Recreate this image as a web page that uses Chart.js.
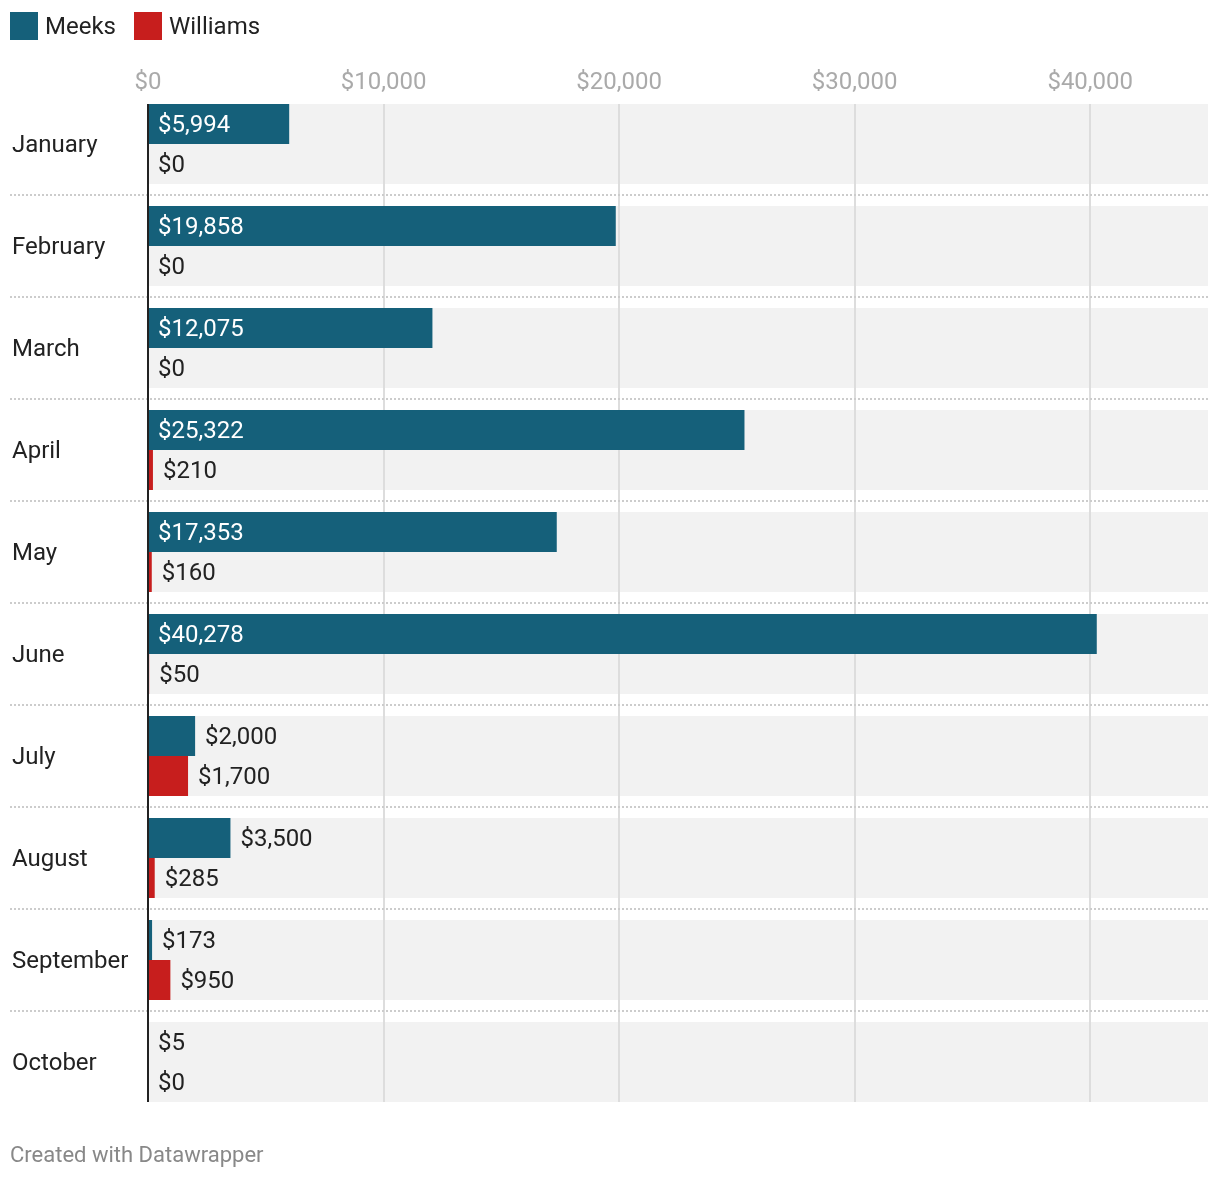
<!DOCTYPE html>
<html>
<head>
<meta charset="utf-8">
<script src="https://cdn.jsdelivr.net/npm/chart.js@4.4.1/dist/chart.umd.min.js"></script>
<style>
  html, body { margin: 0; padding: 0; background: #fff; }
  #wrap { position: relative; width: 1220px; height: 1180px; font-family: Roboto, "Noto Sans", sans-serif; }
  #wrap canvas { position: absolute; left: 0; top: 0; }
  .legend { position: absolute; left: 10px; top: 12px; display: flex; align-items: center; font-size: 24px; color: #222; z-index: 2; }
  .legend .item { display: flex; align-items: center; margin-right: 18px; }
  .legend .sw { width: 28px; height: 28px; margin-right: 7px; }
  .footer { position: absolute; left: 10px; top: 1142px; font-size: 22px; color: #888; z-index: 2; }
</style>
</head>
<body>
<div id="wrap">
  <div class="legend" id="legend"></div>
  <canvas id="c" width="1220" height="1180"></canvas>
  <div class="footer">Created with Datawrapper</div>
</div>
<script>
const categories = ["January","February","March","April","May","June","July","August","September","October"];
const seriesNames = ["Meeks","Williams"];
const meeks = [5994, 19858, 12075, 25322, 17353, 40278, 2000, 3500, 173, 5];
const williams = [0, 0, 0, 210, 160, 50, 1700, 285, 950, 0];
const xTicks = [0, 10000, 20000, 30000, 40000];
const xMax = 45000;
const colors = ["#15607a", "#c71e1d"];

const FONT = 'Roboto, "Noto Sans", sans-serif';
const fmt = v => '$' + Number(v).toLocaleString('en-US');

// legend
const lg = document.getElementById('legend');
seriesNames.forEach((n, i) => {
  const it = document.createElement('div');
  it.className = 'item';
  it.innerHTML = '<div class="sw" style="background:' + colors[i] + '"></div><span>' + n + '</span>';
  lg.appendChild(it);
});

const backdrop = {
  id: 'backdrop',
  beforeDatasetsDraw(chart) {
    const ctx = chart.ctx, ca = chart.chartArea;
    const xs = chart.scales.x;
    const m0 = chart.getDatasetMeta(0).data, m1 = chart.getDatasetMeta(1).data;
    ctx.save();
    // bands
    ctx.fillStyle = '#f2f2f2';
    const tops = [], bots = [];
    for (let i = 0; i < m0.length; i++) {
      const top = m0[i].y - m0[i].height / 2;
      const bot = m1[i].y + m1[i].height / 2;
      tops.push(top); bots.push(bot);
      ctx.fillRect(ca.left, top, ca.right - ca.left, bot - top);
    }
    // gridlines
    ctx.strokeStyle = '#dddddd';
    ctx.lineWidth = 2;
    xs.ticks.forEach(t => {
      if (t.value === 0) return;
      const x = Math.round(xs.getPixelForValue(t.value));
      ctx.beginPath();
      ctx.moveTo(x, tops[0]);
      ctx.lineTo(x, bots[bots.length - 1]);
      ctx.stroke();
    });
    // separators
    ctx.strokeStyle = '#cccccc';
    ctx.lineWidth = 2;
    ctx.setLineDash([2, 2]);
    for (let i = 0; i < tops.length - 1; i++) {
      const y = Math.round((bots[i] + tops[i + 1]) / 2);
      ctx.beginPath();
      ctx.moveTo(10, y);
      ctx.lineTo(ca.right, y);
      ctx.stroke();
    }
    ctx.restore();
  },
  afterDatasetsDraw(chart) {
    const ctx = chart.ctx;
    const xs = chart.scales.x;
    const m0 = chart.getDatasetMeta(0).data, m1 = chart.getDatasetMeta(1).data;
    const x0 = xs.getPixelForValue(0);
    ctx.save();
    // axis line
    ctx.strokeStyle = '#222';
    ctx.lineWidth = 2;
    ctx.beginPath();
    ctx.moveTo(x0, m0[0].y - m0[0].height / 2);
    ctx.lineTo(x0, m1[m1.length - 1].y + m1[m1.length - 1].height / 2);
    ctx.stroke();
    // value labels
    ctx.font = '24px ' + FONT;
    ctx.textBaseline = 'middle';
    ctx.textAlign = 'left';
    chart.data.datasets.forEach((ds, di) => {
      chart.getDatasetMeta(di).data.forEach((bar, i) => {
        const txt = fmt(ds.data[i]);
        const w = ctx.measureText(txt).width;
        const bw = bar.x - x0;
        if (bw > w + 20) {
          ctx.fillStyle = '#ffffff';
          ctx.fillText(txt, x0 + 10, bar.y + 2);
        } else {
          ctx.fillStyle = '#222222';
          ctx.fillText(txt, bar.x + 10, bar.y + 2);
        }
      });
    });
    ctx.restore();
  }
};

new Chart(document.getElementById('c'), {
  type: 'bar',
  data: {
    labels: categories,
    datasets: [
      { label: seriesNames[0], data: meeks, backgroundColor: colors[0] },
      { label: seriesNames[1], data: williams, backgroundColor: colors[1] }
    ]
  },
  options: {
    indexAxis: 'y',
    responsive: false,
    animation: false,
    events: [],
    layout: { padding: { left: 12, right: 12, top: 0, bottom: 67 } },
    datasets: { bar: { categoryPercentage: 80 / 102, barPercentage: 1.0, borderWidth: 0 } },
    plugins: { legend: { display: false }, tooltip: { enabled: false } },
    scales: {
      x: {
        position: 'top',
        min: 0, max: xMax,
        afterBuildTicks: s => { s.ticks = xTicks.map(v => ({ value: v })); },
        afterFit: s => { s.height = 93; },
        grid: { display: false, drawTicks: false },
        border: { display: false },
        ticks: {
          padding: 0,
          color: '#aaaaaa',
          font: { family: FONT, size: 24, lineHeight: 0.85 },
          callback: v => fmt(v),
          maxRotation: 0
        }
      },
      y: {
        afterFit: s => { s.width = 136; },
        grid: { display: false, drawTicks: false },
        border: { display: false },
        ticks: {
          crossAlign: 'far',
          color: '#222222',
          font: { family: FONT, size: 24 },
          padding: 0,
          labelOffset: 2
        }
      }
    }
  },
  plugins: [backdrop]
});
</script>
</body>
</html>
